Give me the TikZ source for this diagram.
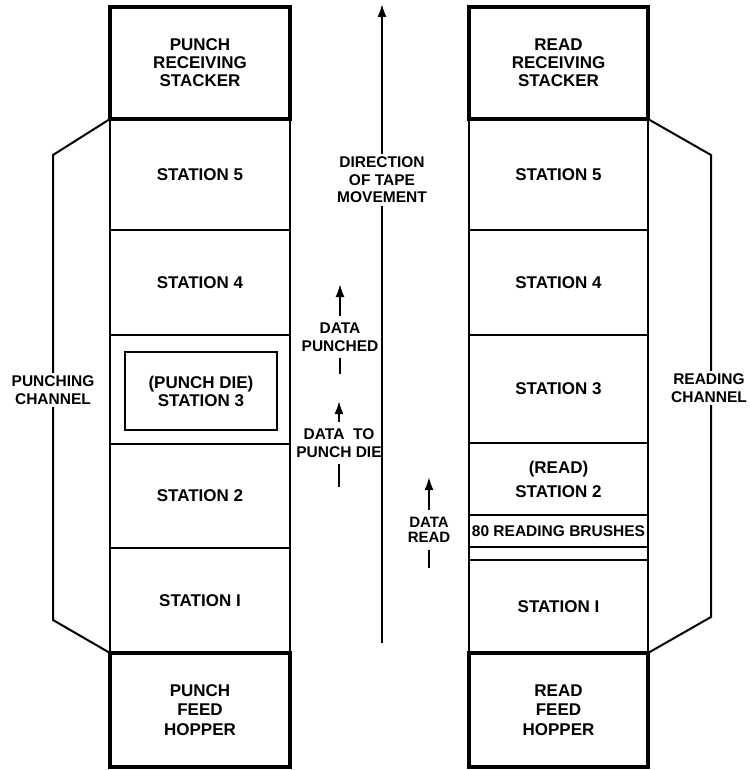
\documentclass[tikz,border=0pt]{standalone}
\usepackage{fontspec}
\setmainfont{Liberation Sans}
\usetikzlibrary{arrows.meta,positioning}
\newcommand{\lbl}{\fontsize{17}{18}\selectfont\bfseries}
\newcommand{\sidelbl}{\fontsize{15.5}{17.5}\selectfont\bfseries}
\tikzset{
  station/.style={draw, line width=2pt, minimum width=180pt, outer sep=0pt,
                  inner sep=0pt, align=center, font=\lbl},
  bin/.style={station, line width=3.8pt},
  diebox/.style={draw, line width=2.2pt, minimum width=152pt, minimum height=78pt,
                 align=center, font=\lbl},
  chan/.style={line width=2pt, line join=miter},
  flow/.style={-{Latex[length=13pt,width=9pt]}, line width=2pt},
  tag/.style={align=center, inner sep=3pt, font=\sidelbl},
  mask/.style={tag, fill=white}
}

\begin{document}
\begin{tikzpicture}[x=1pt,y=-1pt]
  \useasboundingbox (0,0) rectangle (749,770);
  % punching side
  \foreach \n/\y/\h/\t in {pS5/174.5/111/{STATION 5},pS4/282.5/105/{STATION 4},
      pS3/389.5/109/{},pS2/496/104/{STATION 2},pS1/600.5/105/{STATION I}} {
    \node[station,minimum height=\h pt] (\n) at (200,\y) {\t};
  }
  \node[diebox] (pDie) at (201,391) {(PUNCH DIE)\\STATION 3};
  \node[bin,minimum height=112pt] (pStack) at (200,63) {PUNCH\\RECEIVING\\STACKER};
  \node[bin,minimum height=114pt] (pHop) at (200,710) {PUNCH\\[1.5pt]FEED\\[1.5pt]HOPPER};
  % reading side
  \foreach \n/\y/\h/\t in {rS5/174.5/111/{STATION 5},rS4/282.5/105/{STATION 4},
      rS3/389/108/{STATION 3},rS2/479/72/{(READ)\\[6pt]STATION 2},
      rBrush/531/32/{\fontsize{15.5}{17}\selectfont 80 READING BRUSHES},
      rGap/553.5/13/{},rS1/606.5/93/{STATION I}} {
    \node[station,minimum width=179pt,minimum height=\h pt] (\n) at (558.5,\y) {\t};
  }
  \node[bin,minimum width=179pt,minimum height=112pt] (rStack) at (558.5,63) {READ\\RECEIVING\\STACKER};
  \node[bin,minimum width=179pt,minimum height=114pt] (rHop) at (558.5,710) {READ\\[1.5pt]FEED\\[1.5pt]HOPPER};

  % channel brackets
  \coordinate (pKinkT) at (53,155);
  \coordinate (pKinkB) at (53,620);
  \draw[chan] (pStack.south west) -- (pKinkT) -- (pKinkB) -- (pHop.north west);
  \node[mask] (pChan) at (53,390) {PUNCHING\\CHANNEL};
  \coordinate (rKinkT) at (711,155);
  \coordinate (rKinkB) at (711,617);
  \draw[chan] (rStack.south east) -- (rKinkT) -- (rKinkB) -- (rHop.north east);
  \node[mask,inner xsep=1pt] (rChan) at (709,388) {READING\\CHANNEL};

  % tape direction
  \coordinate (dirBot) at (382,643);
  \coordinate (dirTop) at (382,4);
  \draw[flow] (dirBot) -- (dirTop);
  \node[mask] (dir) at (382,180) {DIRECTION\\OF TAPE\\MOVEMENT};

  % data flow marks
  \node[tag] (punched) at (340,337) {DATA\\PUNCHED};
  \coordinate (punchedTip) at (340,284);
  \coordinate (punchedEnd) at (340,374);
  \draw[flow] ([yshift=4pt]punched.north) -- (punchedTip);
  \draw[line width=2pt] ([yshift=-4pt]punched.south) -- (punchedEnd);

  \node[tag] (toDie) at (339,443) {DATA\ \ TO\\PUNCH DIE};
  \coordinate (toDieTip) at (339,401);
  \coordinate (toDieEnd) at (339,487);
  \draw[flow] ([yshift=4pt]toDie.north) -- (toDieTip);
  \draw[line width=2pt] ([yshift=-4pt]toDie.south) -- (toDieEnd);

  \node[tag,font=\fontsize{15}{15}\selectfont\bfseries] (dRead) at (429,530) {DATA\\READ};
  \coordinate (dReadTip) at (429,477);
  \coordinate (dReadEnd) at (429,568);
  \draw[flow] ([yshift=4pt]dRead.north) -- (dReadTip);
  \draw[line width=2pt] ([yshift=-4pt]dRead.south) -- (dReadEnd);
\end{tikzpicture}
\end{document}
